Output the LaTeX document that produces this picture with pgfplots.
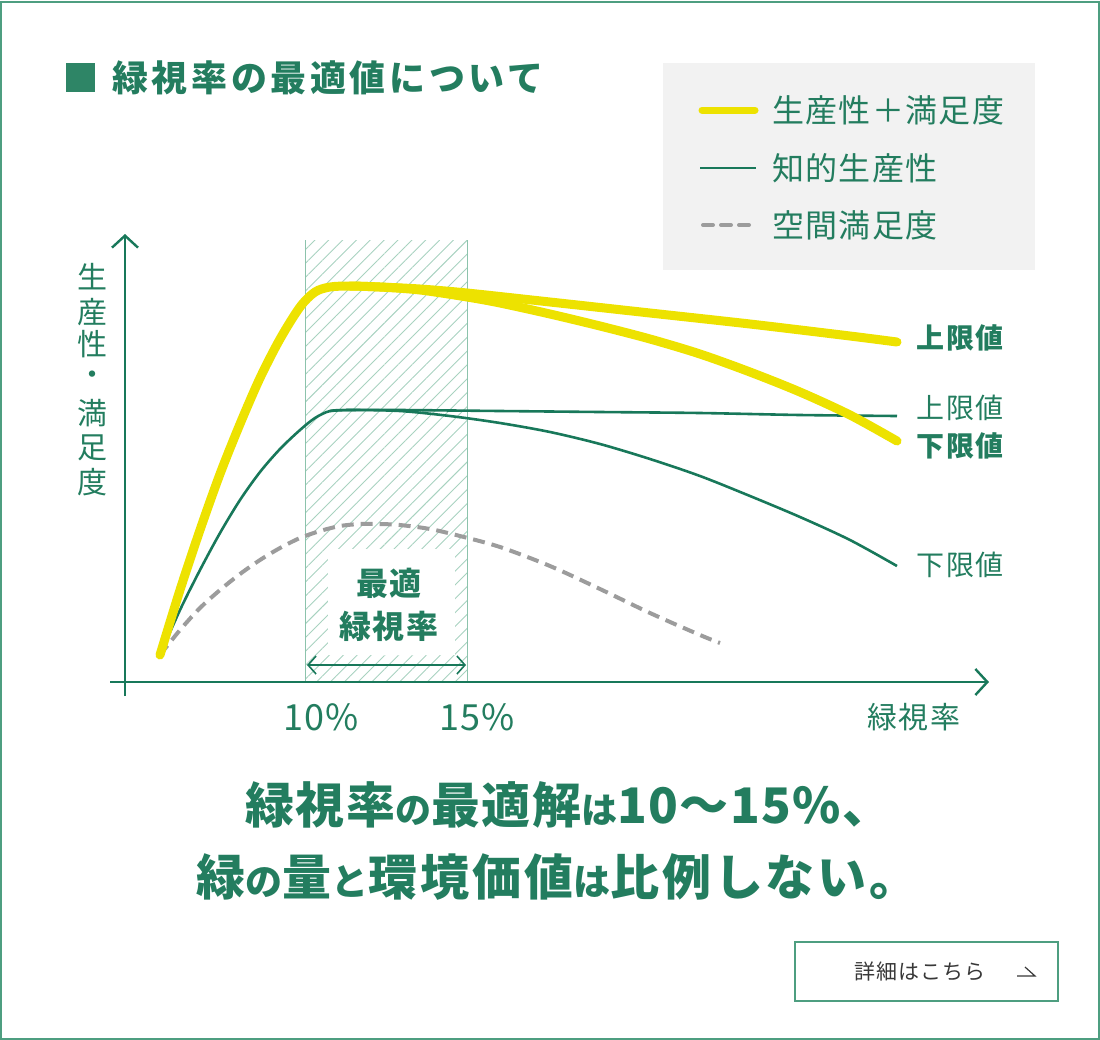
\documentclass[border=0pt]{standalone}
\usepackage{pgfplots}
\pgfplotsset{compat=1.18}
\usepackage{fontspec}
\setmainfont{Noto Sans CJK JP}
\usetikzlibrary{patterns.meta,arrows.meta}
\definecolor{mgreen}{HTML}{237D5F}
\definecolor{sqgreen}{HTML}{2E8566}
\definecolor{lgreen}{HTML}{18785A}
\definecolor{bordergreen}{HTML}{4E9E80}
\definecolor{hatch}{HTML}{A8D2C0}
\definecolor{hatchedge}{HTML}{8CC3AC}
\definecolor{yel}{HTML}{EDE200}
\definecolor{gry}{HTML}{9C9C9C}
\definecolor{legbg}{HTML}{F2F2F2}
\newcommand{\fs}[1]{\fontsize{#1}{#1}\selectfont}
\newcommand{\ls}[1]{\addfontfeatures{LetterSpace=#1}}
\begin{document}
\begin{tikzpicture}
\begin{axis}[
  width=550pt, height=520pt, scale only axis,
  xmin=0, xmax=1100, ymin=0, ymax=1040, y dir=reverse,
  axis lines=none, ticks=none, clip=false]
\coordinate (BL) at (axis cs:0,1040);
\coordinate (TR) at (axis cs:1100,0);
% frame
\draw[bordergreen, line width=1pt] (axis cs:1.5,1.5) rectangle (axis cs:1098.5,1038.5);
% title
\fill[sqgreen] (axis cs:66,63) rectangle (axis cs:95,92);
\node[anchor=west, text=mgreen, inner sep=0pt] at (axis cs:112,78) {\fs{18pt}\bfseries\ls{10}緑視率の最適値について};
% legend
\fill[legbg] (axis cs:663,63) rectangle (axis cs:1035,270);
\draw[yel, line width=3.5pt, line cap=round] (axis cs:702,110) -- (axis cs:755,110);
\draw[lgreen, line width=1.2pt] (axis cs:700,168) -- (axis cs:756,168);
\draw[gry, line width=2pt, line cap=round, dash pattern=on 5pt off 4pt] (axis cs:703,225) -- (axis cs:756,225);
\node[anchor=west, text=mgreen, inner sep=0pt] at (axis cs:772,110) {\fs{16pt}\ls{4}生産性＋満足度};
\node[anchor=west, text=mgreen, inner sep=0pt] at (axis cs:772,168) {\fs{16pt}\ls{4}知的生産性};
\node[anchor=west, text=mgreen, inner sep=0pt] at (axis cs:772,225) {\fs{16pt}\ls{4}空間満足度};
% hatched optimum region
\addplot[draw=none, pattern={Lines[angle=45, distance=4.9pt, line width=0.45pt]}, pattern color=hatch]
  coordinates {(305,240) (467,240) (467,682) (305,682)} -- cycle;
\draw[hatchedge, line width=0.5pt] (axis cs:305,240) -- (axis cs:305,682);
\draw[hatchedge, line width=0.5pt] (axis cs:467,240) -- (axis cs:467,682);
\fill[white] (axis cs:328,549) rectangle (axis cs:455,655);
\node[text=mgreen, inner sep=0pt] at (axis cs:389,583) {\fs{16pt}\bfseries\ls{4}最適};
\node[text=mgreen, inner sep=0pt] at (axis cs:389,626) {\fs{16pt}\bfseries\ls{4}緑視率};
\draw[lgreen, line width=0.8pt, {Straight Barb[length=4pt,width=9pt]}-{Straight Barb[length=4pt,width=9pt]}] (axis cs:307,665) -- (axis cs:466,665);
% axes
\draw[lgreen, line width=1.2pt, -{Straight Barb[length=6pt,width=13pt]}] (axis cs:110,682) -- (axis cs:989,682);
\draw[lgreen, line width=1.2pt, -{Straight Barb[length=6pt,width=13pt]}] (axis cs:125,696) -- (axis cs:125,234);
% axis labels
\node[text=mgreen, inner sep=0pt] at (axis cs:92,277) {\fs{15pt}生};
\node[text=mgreen, inner sep=0pt] at (axis cs:92,312) {\fs{15pt}産};
\node[text=mgreen, inner sep=0pt] at (axis cs:92,344) {\fs{15pt}性};
\node[text=mgreen, inner sep=0pt] at (axis cs:92,378) {\fs{15pt}・};
\node[text=mgreen, inner sep=0pt] at (axis cs:92,413) {\fs{15pt}満};
\node[text=mgreen, inner sep=0pt] at (axis cs:92,448) {\fs{15pt}足};
\node[text=mgreen, inner sep=0pt] at (axis cs:92,482) {\fs{15pt}度};
\node[text=mgreen, inner sep=0pt] at (axis cs:321,717) {\fs{18pt}\ls{2}10\%};
\node[text=mgreen, inner sep=0pt] at (axis cs:477,717) {\fs{18pt}\ls{2}15\%};
\node[text=mgreen, inner sep=0pt] at (axis cs:914,717) {\fs{15pt}\ls{5}緑視率};
% curves
\addplot[gry, line width=2pt, dash pattern=on 6pt off 3.5pt, smooth] coordinates {
 (160,655) (180,630) (200,608) (220,590) (240,574) (260,560) (280,548) (300,538) (320,531) (340,526) (360,524) (380,524) (400,525) (430,529) (460,536) (500,547) (550,566) (600,589) (650,613) (700,635) (720,643)};
\addplot[lgreen, line width=1.3pt, smooth] coordinates {
 (160,655) (180,610) (200,570) (220,533) (240,500) (260,472) (280,449) (300,430) (315,418) (330,411) (350,410) (400,410) (500,411) (600,412) (700,413) (800,415) (897,416)};
\addplot[lgreen, line width=1.3pt, smooth] coordinates {
 (330,411) (350,410) (400,411) (450,416) (500,423) (550,432) (600,444) (650,459) (700,476) (750,496) (800,517) (850,540) (897,566)};
\addplot[yel, line width=4.5pt, line cap=round, smooth] coordinates {
 (160,655) (180,590) (200,530) (220,474) (240,424) (260,378) (280,339) (300,307) (315,292) (330,287) (350,286) (380,287) (420,289) (467,293) (550,302) (650,313) (750,324) (850,336) (897,342)};
\addplot[yel, line width=4.5pt, line cap=round, smooth] coordinates {
 (350,286) (380,287) (420,290) (467,297) (500,303) (550,314) (600,326) (650,339) (700,354) (750,372) (800,392) (850,415) (897,441)};
% right labels
\node[anchor=west, text=mgreen, inner sep=0pt] at (axis cs:916,338) {\fs{14pt}\bfseries\ls{6}上限値};
\node[anchor=west, text=mgreen, inner sep=0pt] at (axis cs:916,408) {\fs{14pt}\ls{6}上限値};
\node[anchor=west, text=mgreen, inner sep=0pt] at (axis cs:916,446) {\fs{14pt}\bfseries\ls{6}下限値};
\node[anchor=west, text=mgreen, inner sep=0pt] at (axis cs:916,565) {\fs{14pt}\ls{6}下限値};
% bottom message
\node[anchor=west, text=mgreen, inner sep=0pt] at (axis cs:245,805) {\bfseries\fs{24.5pt}\ls{3}緑視率{\fs{18pt}\ls{3}の}最適解{\fs{18pt}\ls{3}は}10〜15\%、};
\node[anchor=west, text=mgreen, inner sep=0pt] at (axis cs:196,877) {\bfseries\fs{24.5pt}\ls{6}緑{\fs{18.5pt}\ls{6}の}量{\fs{18.5pt}\ls{6}と}環境価値{\fs{18.5pt}\ls{6}は}比例しない。};
% button
\draw[bordergreen, line width=0.8pt] (axis cs:795,942) rectangle (axis cs:1058,1001);
\node[text=black!78, inner sep=0pt] at (axis cs:920,971) {\fs{10.5pt}\ls{5}詳細はこちら};
\draw[black!78, line width=0.6pt] (axis cs:1017,976) -- (axis cs:1035,976) -- (axis cs:1025,967);
\end{axis}
\pgfresetboundingbox
\path (BL) rectangle (TR);
\end{tikzpicture}
\end{document}
